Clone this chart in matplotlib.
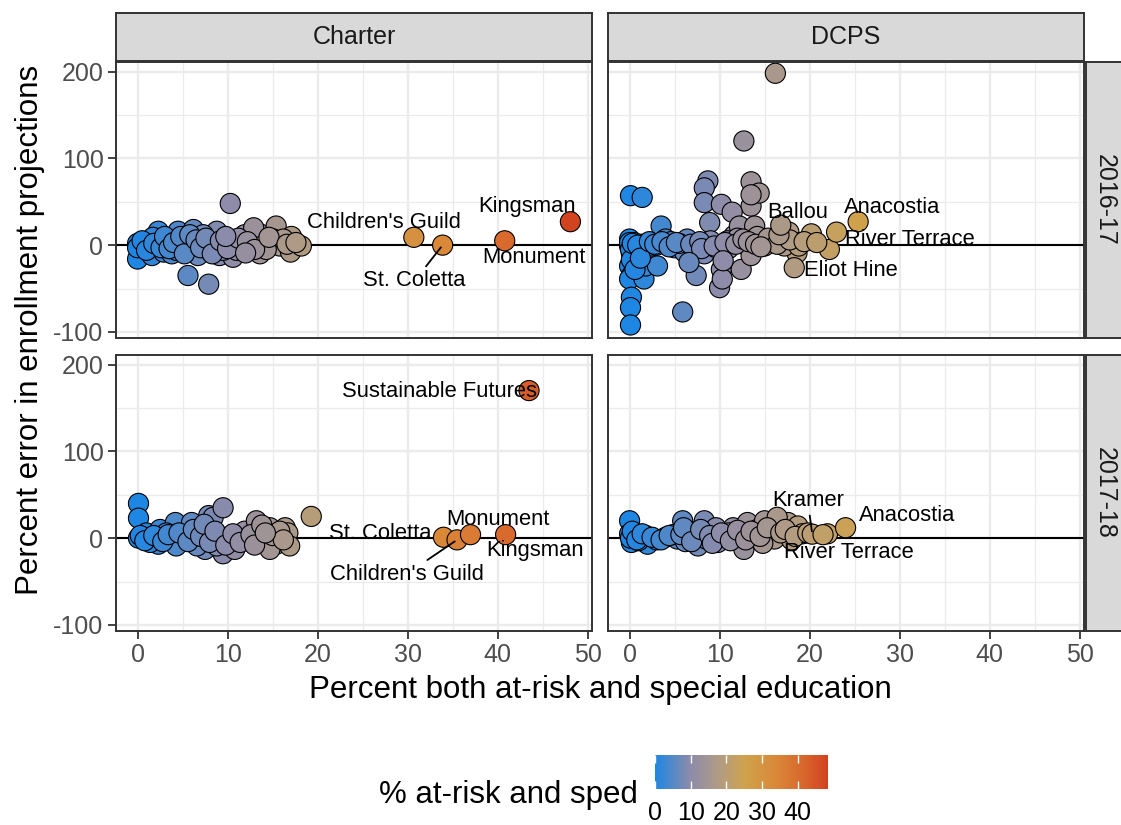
import matplotlib
matplotlib.use("Agg")
import matplotlib.pyplot as plt
from matplotlib.colors import LinearSegmentedColormap, Normalize
from matplotlib.cm import ScalarMappable
from matplotlib.ticker import FixedLocator

plt.rcParams['font.family'] = ['Liberation Sans', 'DejaVu Sans']
plt.rcParams['axes.unicode_minus'] = False

# ---------------------------------------------------------------- data
sectors = ["Charter", "DCPS"]
years = ["2016-17", "2017-18"]

# Charter, 2016-17
c16_pct = [0.0, 0.0, 0.6, 1.2, 1.6, 2.3, 2.3, 2.9, 3.8, 3.8, 4.5, 4.7, 5.4, 6.2, 6.2,
           6.0, 6.7, 5.6, 7.9, 7.5, 8.8, 8.6, 9.1, 10.3, 9.9, 10.6, 11.4, 11.9, 12.5,
           13.6, 13.6, 14.1, 15.4, 15.1, 15.8, 17.1, 17.0, 18.2, 12.9, 7.3, 5.1, 3.2,
           1.7, 9.5, 11.0, 8.0, 4.3, 14.3, 16.2, 0.0,
           0.5, 1.0, 1.8, 2.6, 3.0, 3.5, 4.0, 4.8, 5.2, 5.8, 6.5, 7.0, 7.6, 8.3,
           9.2, 10.0, 11.2, 12.2, 13.0, 14.6, 16.6, 17.6, 12.0, 9.8]
c16_err = [2, -16, -1, 5, -12, 16, 2, -8, -10, 7, 16, -1, 9, 18, 3,
           -5, -12, -35, -45, 1, 16, -1, -12, 48, 3, -14, 3, 12, -1,
           13, -10, 3, 22, 7, -1, 10, -8, -1, 20, 12, -5, -1,
           9, -6, -6, -6, -6, -5, 7, -3,
           5, -6, 2, -3, 10, -4, 3, 10, -10, 12, 6, -3, 8, -10,
           5, -4, 8, 4, -5, 9, 1, 3, -9, 10]
c16_names = ["Children's Guild", "St. Coletta", "Monument", "Kingsman"]
c16_lab_pct = [30.7, 33.9, 40.8, 48.1]
c16_lab_err = [9, 0, 5, 27]

# DCPS, 2016-17
d16_pct = [16.2, 12.7, 8.7, 8.3, 13.5, 13.5, 14.4, 0.1, 1.4, 8.3, 10.2, 13.5, 3.5,
           0.0, 0.0, 0.2, 0.0, 0.2, 0.0, 0.2, 0.1, 0.1, 1.6, 1.8, 2.0, 3.1, 4.0,
           5.0, 5.9, 6.4, 7.4, 8.3, 8.9, 9.0, 10.2, 10.0, 10.3, 11.4, 11.6, 12.4,
           12.2, 13.1, 13.9, 13.5, 15.0, 10.9, 7.2, 6.1, 2.4, 1.3, 17.7, 20.2,
           22.2, 18.6, 16.0, 17.2, 19.0, 14.9, 18.8, 0.5, 0.3, 4.6, 5.5, 11.0,
           12.0, 14.2, 9.6, 3.0,
           0.0, 0.1, 0.2, 0.3, 0.6, 0.9, 1.2, 2.2, 2.8, 3.6, 4.4, 5.2, 6.8, 7.8,
           8.0, 9.4, 10.6, 11.8, 12.6, 13.2, 14.0, 15.4, 16.4, 17.8, 19.4, 20.8,
           6.6, 10.4, 14.6, 16.6]
d16_err = [198, 120, 74, 66, 73, 45, 60, 57, 55, 49, 47, 58, 22,
           7, -1, -10, -24, -35, -39, -60, -72, -92, -39, -24, -12, -24, 7,
           -3, -77, 7, -35, -10, 26, 5, -28, -49, -39, 38, 11, -28,
           22, -1, 22, -12, -1, 5, -1, -8, -1, 1, 15, 13,
           -5, -9, 5, -1, 3, 3, -1, 3, -3, 4, 2, -4,
           8, 10, -3, 0,
           3, -5, -17, 2, -28, 0, -15, 4, 1, 4, -2, 3, 1, 4,
           -4, -1, 3, 1, 7, 4, 1, 8, 1, 6, 4, 3,
           -20, -18, -2, 12]
d16_names = ["Ballou", "Anacostia", "River Terrace", "Eliot Hine"]
d16_lab_pct = [16.8, 25.4, 23.0, 18.3]
d16_lab_err = [23, 27, 15, -26]

# Charter, 2017-18
c17_pct = [0.1, 0.1, 0.1, 1.0, 2.3, 2.5, 4.2, 3.8, 6.0, 6.4, 7.9, 8.4, 9.5, 7.5,
           9.5, 9.0, 10.4, 10.8, 11.9, 13.2, 13.6, 14.0, 14.7, 15.4, 16.4, 16.7,
           16.9, 12.3, 5.1, 3.2, 7.7, 4.3, 1.4, 6.6, 8.8, 14.7, 19.3,
           0.3, 0.8, 1.8, 2.8, 3.4, 4.6, 5.6, 6.2, 7.0, 7.4, 8.0, 8.6, 9.8, 10.6,
           11.4, 12.6, 13.0, 13.8, 15.0, 15.8, 16.2, 14.2]
c17_err = [40, 23, 0, 6, -7, 10, 18, -1, 18, -1, 26, 24, 35, -13,
           -18, 3, -1, -13, 8, 20, 10, -3, 12, -7, 12, 6,
           -9, -3, 3, 6, 10, -9, -5, -9, -9, -13, 25,
           3, -3, 3, -4, 4, 6, -4, 10, 2, 16, -5, 8, -8, 5,
           -5, 4, -8, 15, 3, 8, -2, 6]
c17_names = ["Sustainable Futures", "St. Coletta", "Children's Guild", "Monument", "Kingsman"]
c17_lab_pct = [43.5, 34.0, 35.5, 37.0, 40.9]
c17_lab_err = [170, 1, -2, 4, 4]

# DCPS, 2017-18
d17_pct = [0.0, 0.0, 0.2, 1.8, 2.0, 4.0, 5.3, 5.9, 6.6, 8.3, 7.6, 8.5, 9.6, 10.7,
           11.5, 12.4, 13.1, 13.9, 14.2, 15.0, 15.7, 17.6, 18.7, 19.2, 16.1, 12.7,
           9.8, 7.2, 0.5, 1.0, 3.0, 4.8, 6.2, 11.0, 14.8, 17.0, 18.0, 16.4,
           0.1, 0.3, 0.8, 1.4, 2.5, 3.5, 4.4, 5.7, 6.0, 6.9, 7.9, 8.9, 9.2, 10.2,
           11.2, 12.0, 12.9, 13.5, 14.5, 15.3, 16.8, 17.3, 18.4, 19.8, 22.0]
d17_err = [20, 5, -5, 3, -7, 1, -1, 20, 8, 20, -9, -1, 12, -1,
           12, 3, 18, -1, 10, 20, 5, 18, 14, 5, -1, -13,
           -5, 1, 2, -3, -2, 4, -4, 6, -6, 8, -2, 24,
           0, 8, -2, 5, 1, -2, 3, 4, 12, -4, 10, 3, -6, 6,
           -3, 9, -2, 8, 2, 12, 6, 10, 2, 6, 5]
d17_names = ["Kramer", "Anacostia", "River Terrace"]
d17_lab_pct = [20.3, 24.0, 21.5]
d17_lab_err = [4.6, 12, 4]

# ------------------------------------------------------- label layout
# text anchor (x, y) in data units, and whether a leader segment is drawn
c16_lab_pos = [(27.4, 26.0, False), (30.8, -41.0, True), (44.0, -14.0, False), (43.3, 44.5, False)]
d16_lab_pos = [(18.7, 37.6, False), (29.2, 43.3, False), (31.2, 7.0, False), (24.6, -28.7, False)]
c17_lab_pos = [(33.5, 169.3, False), (27.0, 5.7, False), (29.9, -41.4, True), (40.1, 21.8, False),
               (44.2, -14.6, False)]
d17_lab_pos = [(19.8, 42.9, True), (30.8, 25.6, False), (24.4, -16.4, False)]

panels = {
    ("Charter", "2016-17"): (c16_pct, c16_err, c16_names, c16_lab_pct, c16_lab_err, c16_lab_pos),
    ("DCPS", "2016-17"): (d16_pct, d16_err, d16_names, d16_lab_pct, d16_lab_err, d16_lab_pos),
    ("Charter", "2017-18"): (c17_pct, c17_err, c17_names, c17_lab_pct, c17_lab_err, c17_lab_pos),
    ("DCPS", "2017-18"): (d17_pct, d17_err, d17_names, d17_lab_pct, d17_lab_err, d17_lab_pos),
}

# ------------------------------------------------------------- styling
W, H = 1121, 825
fig = plt.figure(figsize=(W / 100, H / 100), dpi=100)


def px_axes(x0, y0, x1, y1, **kw):
    return fig.add_axes([x0 / W, 1 - y1 / H, (x1 - x0) / W, (y1 - y0) / H], **kw)


cmap = LinearSegmentedColormap.from_list(
    "atrisk",
    [(0.0, "#1E86E3"), (0.2, "#8B8BAB"), (0.38, "#B39C80"), (0.52, "#CFA24C"),
     (0.7, "#D98838"), (0.85, "#D8692E"), (1.0, "#D2421E")])
norm = Normalize(vmin=0, vmax=48.5)

BORDER = "#333333"
GRID = "#EBEBEB"
SMALL = 18
BASE = 22.5
LABEL = 15.8
PT_SIZE = 210

col_x = [(116, 592), (608, 1084)]
row_y = [(62, 338), (355, 631)]

for r, year in enumerate(years):
    for c, sector in enumerate(sectors):
        x0, x1 = col_x[c]
        y0, y1 = row_y[r]
        ax = px_axes(x0, y0, x1, y1)
        pct, err, names, lpct, lerr, lpos = panels[(sector, year)]

        ax.set_xlim(-2.4, 50.5)
        ax.set_ylim(-107, 211)
        ax.xaxis.set_major_locator(FixedLocator([0, 10, 20, 30, 40, 50]))
        ax.xaxis.set_minor_locator(FixedLocator([5, 15, 25, 35, 45]))
        ax.yaxis.set_major_locator(FixedLocator([-100, 0, 100, 200]))
        ax.yaxis.set_minor_locator(FixedLocator([-50, 50, 150]))
        ax.grid(which="major", color=GRID, lw=1.7, zorder=0)
        ax.grid(which="minor", color=GRID, lw=0.9, zorder=0)
        ax.set_axisbelow(True)
        for s in ax.spines.values():
            s.set_color(BORDER)
            s.set_linewidth(1.4)
            s.set_zorder(5)
        ax.tick_params(which="minor", length=0)
        ax.tick_params(which="major", length=6, width=1.3, color=BORDER,
                       labelsize=SMALL, labelcolor="#4D4D4D", pad=3)
        if r == 0:
            ax.tick_params(axis="x", length=0, labelbottom=False)
        if c == 1:
            ax.tick_params(axis="y", length=0, labelleft=False)

        ax.axhline(0, color="black", lw=1.5, zorder=2)

        ax.scatter(pct, err, c=pct, cmap=cmap, norm=norm, s=PT_SIZE,
                   edgecolors="black", linewidths=0.8, zorder=3)
        ax.scatter(lpct, lerr, c=lpct, cmap=cmap, norm=norm, s=PT_SIZE,
                   edgecolors="black", linewidths=0.8, zorder=3)

        for name, px, py, (tx, ty, seg) in zip(names, lpct, lerr, lpos):
            if seg:
                ax.annotate(name, xy=(px, py), xytext=(tx, ty), fontsize=LABEL,
                            ha="center", va="center", zorder=4,
                            arrowprops=dict(arrowstyle="-", color="black", lw=1.3,
                                            shrinkA=1, shrinkB=2))
            else:
                ax.text(tx, ty, name, fontsize=LABEL, ha="center", va="center", zorder=4)

        # facet strips
        if r == 0:
            sax = px_axes(x0, 12.5, x1, 61)
            sax.set_facecolor("#D9D9D9")
            sax.set_xticks([])
            sax.set_yticks([])
            for s in sax.spines.values():
                s.set_color(BORDER)
                s.set_linewidth(1.4)
            sax.text(0.5, 0.5, sector, transform=sax.transAxes, ha="center",
                     va="center", fontsize=SMALL, color="#1A1A1A")
        if c == 1:
            sax = px_axes(1085.5, y0, 1134, y1)
            sax.set_facecolor("#D9D9D9")
            sax.set_xticks([])
            sax.set_yticks([])
            for s in sax.spines.values():
                s.set_color(BORDER)
                s.set_linewidth(1.4)
            sax.text(1105 / W, 1 - (y0 + y1) / 2 / H, year, transform=fig.transFigure,
                     ha="center", va="center", rotation=-90, fontsize=SMALL,
                     color="#1A1A1A")

# axis titles
fig.text(600 / W, 1 - 690 / H, "Percent both at-risk and special education",
         ha="center", va="center", fontsize=BASE, color="black")
fig.text(30 / W, 1 - 330 / H, "Percent error in enrollment projections",
         ha="center", va="center", rotation=90, fontsize=BASE, color="black")

# colour legend
cax = px_axes(655, 755, 828, 789)
cb = fig.colorbar(ScalarMappable(norm=norm, cmap=cmap), cax=cax, orientation="horizontal")
cb.outline.set_visible(False)
cb.set_ticks([0, 10, 20, 30, 40])
cax.tick_params(axis="x", direction="in", color="white", length=6, width=1,
                top=True, bottom=True, labeltop=False, labelbottom=True,
                labelsize=SMALL, labelcolor="black", pad=9)
fig.text(638 / W, 1 - 795 / H, "% at-risk and sped", ha="right", va="center",
         fontsize=BASE, color="black")

fig.savefig("out.png", dpi=100, facecolor="white")
